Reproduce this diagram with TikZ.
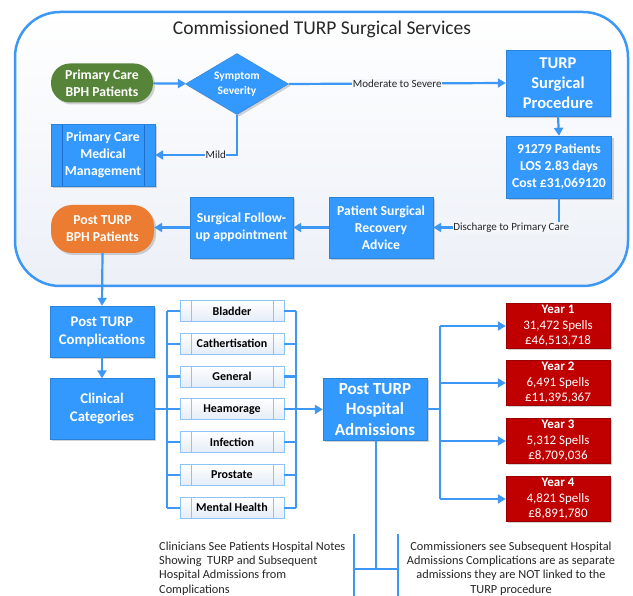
\documentclass[tikz,border=0pt]{standalone}
\usepackage{fontspec}
\setmainfont{Carlito}
\usetikzlibrary{shapes.geometric,shadows,arrows.meta,calc}
\definecolor{bblue}{HTML}{3399FF}
\definecolor{bline}{HTML}{3D97F5}
\definecolor{bdark}{HTML}{1F6FC8}
\definecolor{pgreen}{HTML}{56853A}
\definecolor{porange}{HTML}{EC7C32}
\definecolor{yred}{HTML}{C00000}
\definecolor{bgb}{HTML}{ECF0F7}
\definecolor{barbd}{HTML}{8CC4F8}
\definecolor{barbot}{HTML}{E3ECF7}
\tikzset{
  shad/.style={drop shadow={opacity=0.35,shadow xshift=2pt,shadow yshift=-2pt}},
  boxbase/.style={rectangle, inner sep=0pt, align=center, text=white, shad},
  bluebox/.style={boxbase, fill=bblue, draw=bblue!85!black, line width=0.4pt,
    font=\bfseries\fontsize{13.7}{17}\selectfont},
  bigtext/.style={font=\bfseries\fontsize{16.5}{20}\selectfont},
  pill/.style={boxbase, rounded corners=19pt, draw=none,
    font=\bfseries\fontsize{13.7}{17}\selectfont},
  sub/.style={path picture={
    \draw[bdark, line width=0.5pt] ([xshift=11pt]path picture bounding box.north west) -- ([xshift=11pt]path picture bounding box.south west);
    \draw[bdark, line width=0.5pt] ([xshift=-11pt]path picture bounding box.north east) -- ([xshift=-11pt]path picture bounding box.south east);}},
  catbar/.style={rectangle, inner sep=0pt, minimum width=104pt, minimum height=21pt,
    draw=barbd, line width=0.8pt, top color=white, bottom color=barbot,
    font=\bfseries\fontsize{12}{13}\selectfont, text=black,
    path picture={
    \draw[barbd, line width=0.8pt] ([xshift=11pt]path picture bounding box.north west) -- ([xshift=11pt]path picture bounding box.south west);
    \draw[barbd, line width=0.8pt] ([xshift=-11pt]path picture bounding box.north east) -- ([xshift=-11pt]path picture bounding box.south east);}},
  yearbox/.style={boxbase, fill=yred, draw=yred!80!black, line width=0.4pt,
    minimum width=104pt, minimum height=45pt, font=\fontsize{13}{15.5}\selectfont},
  conn/.style={draw=bline, line width=2.2pt},
  arr/.style={conn, -{Triangle[length=8pt,width=9pt]}},
  thinl/.style={draw=bline, line width=1.3pt},
  lbl/.style={fill=white!40!bgb, inner sep=0.5pt, text=black!85,
    font=\fontsize{11}{12}\selectfont},
  note/.style={inner sep=0pt, text=black!85, font=\fontsize{12.3}{14.4}\selectfont}
}
\begin{document}
\begin{tikzpicture}[x=1pt,y=-1pt]
\useasboundingbox (0,0) rectangle (633,596);
\fill[white] (0,0) rectangle (633,596);
% big service frame
\draw[bline, line width=2.5pt, rounded corners=45pt, top color=white, bottom color=bgb]
  (15,12) rectangle (628,286);
\node[font=\fontsize{19.5}{22}\selectfont, text=black!85] (title) at (322,29) {Commissioned TURP Surgical Services};

% top region nodes
\node[pill, fill=pgreen, minimum width=102pt, minimum height=39pt] (prim) at (102,83) {Primary Care\\BPH Patients};
\node[diamond, aspect=1.69, minimum width=103pt, minimum height=61pt, inner sep=0pt,
  fill=bblue, draw=bblue!85!black, line width=0.4pt, text=white, align=center, shad,
  font=\bfseries\fontsize{11.5}{15}\selectfont] (sym) at (237,84) {Symptom\\Severity};
\node[bluebox, bigtext, minimum width=104pt, minimum height=66pt] (turp) at (558,83) {TURP\\Surgical\\Procedure};
\node[bluebox, minimum width=105pt, minimum height=62pt] (stats) at (559,167) {91279 Patients\\LOS 2.83 days\\Cost £31,069120};
\node[bluebox, sub, minimum width=104pt, minimum height=62pt] (medm) at (103,155) {Primary Care\\Medical\\Management};
\node[pill, fill=porange, rounded corners=21pt, minimum width=103pt, minimum height=48pt] (post) at (102.5,229) {Post TURP\\BPH Patients};
\node[bluebox, minimum width=103pt, minimum height=61pt] (follow) at (241.5,227.5) {Surgical Follow-\\up appointment};
\node[bluebox, minimum width=104pt, minimum height=61pt] (recov) at (381,227.5) {Patient Surgical\\Recovery\\Advice};

% top connectors
\draw[arr] (prim) -- (sym);
\draw[arr] (sym.east) -- node[lbl]{Moderate to Severe} (turp.west);
\draw[arr] (sym.south) |- node[lbl, pos=0.63]{Mild} (medm.east);
\draw[arr] (turp.south) -- (stats.north);
\draw[arr] (stats.south) |- node[lbl, pos=0.69]{Discharge to Primary Care} (recov.east);
\draw[arr] (recov.west) -- (recov.west -| follow.east);
\draw[arr] (follow.west) -- (follow.west -| post.east);

% lower region
\node[bluebox, font=\bfseries\fontsize{14.7}{18}\selectfont, minimum width=104pt, minimum height=51pt] (comp) at (102,331.5) {Post TURP\\Complications};
\node[bluebox, font=\bfseries\fontsize{14.7}{18}\selectfont, minimum width=104pt, minimum height=61pt] (cat) at (102,409) {Clinical\\Categories};
\draw[arr] (post.south) -- (comp.north);
\draw[arr] (comp.south) -- (cat.north);

\node[catbar] (b1) at (232,311) {Bladder};
\node[catbar] (b2) at (232,343.8) {Cathertisation};
\node[catbar] (b3) at (232,376.6) {General};
\node[catbar] (b4) at (232,409.4) {Heamorage};
\node[catbar] (b5) at (232,442.2) {Infection};
\node[catbar] (b6) at (232,475) {Prostate};
\node[catbar] (b7) at (232,507.8) {Mental Health};

\coordinate (lbus) at (167,0);
\coordinate (rbus) at (296,0);
\node[bluebox, font=\bfseries\fontsize{17}{20.5}\selectfont, minimum width=104pt, minimum height=62pt] (adm) at (375,409.4) {Post TURP\\Hospital\\Admissions};

\draw[conn] (b1.west -| lbus) -- (b7.west -| lbus);
\draw[conn] (b1.east -| rbus) -- (b7.east -| rbus);
\draw[conn] (cat.east) -- (cat.east -| lbus);
\foreach \b in {b1,b2,b3,b4,b5,b6,b7}{
  \draw[conn] (\b.west -| lbus) -- (\b.west);
  \draw[conn] (\b.east) -- (\b.east -| rbus);
}
\draw[arr] (b4.east -| rbus) -- (adm.west);

\node[yearbox] (y1) at (558,326) {\textbf{Year 1}\\31,472 Spells\\£46,513,718};
\node[yearbox] (y2) at (558,383) {\textbf{Year 2}\\6,491 Spells\\£11,395,367};
\node[yearbox] (y3) at (558,441) {\textbf{Year 3}\\5,312 Spells\\£8,709,036};
\node[yearbox] (y4) at (558,499) {\textbf{Year 4}\\4,821 Spells\\£8,891,780};

\coordinate (ybus) at (440,0);
\draw[conn] (adm.east) -- (adm.east -| ybus);
\draw[conn] (y1.west -| ybus) -- (y4.west -| ybus);
\foreach \y in {y1,y2,y3,y4}{
  \draw[arr] (\y.west -| ybus) -- (\y.west);
}

% bottom split
\coordinate (split) at (376,569);
\coordinate (sl) at (354,569);
\coordinate (sr) at (398,569);
\coordinate (slt) at (354,534);
\coordinate (slb) at (354,597);
\coordinate (srt) at (398,534);
\coordinate (srb) at (398,597);
\draw[conn, line width=1.8pt] (adm.south -| split) -- (split);
\draw[thinl] (sl) -- (sr);
\draw[thinl] (slt) -- (slb);
\draw[thinl] (srt) -- (srb);

\node[note, align=left, anchor=west] (lnote) at (159,568.5)
  {Clinicians See Patients Hospital Notes\\Showing\ \ TURP and Subsequent\\Hospital Admissions from\\Complications};
\node[note, align=center] (rnote) at (511,568.5)
  {Commissioners see Subsequent Hospital\\Admissions Complications are as separate\\admissions they are NOT linked to the\\TURP procedure};
\end{tikzpicture}
\end{document}
